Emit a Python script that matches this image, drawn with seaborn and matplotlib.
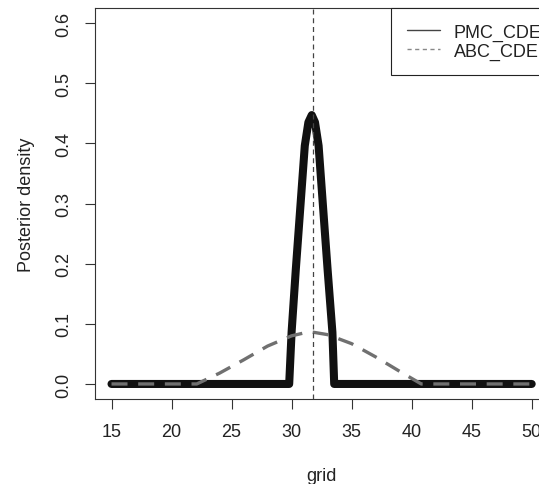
import numpy as np
import seaborn as sns
import matplotlib.pyplot as plt
from matplotlib.lines import Line2D

# --- data ---
pmc_x = [15, 29.8, 30.0, 30.35, 30.7, 31.1, 31.4, 31.68, 31.95, 32.25, 32.65, 33.0, 33.4, 33.55, 50]
pmc_y = [0, 0, 0.086, 0.19, 0.286, 0.396, 0.435, 0.447, 0.435, 0.396, 0.286, 0.19, 0.086, 0, 0]

abc_x = [15, 22.1, 24.0, 26.0, 28.0, 30.0, 31.5, 33.0, 35.0, 37.0, 39.0, 40.8, 50]
abc_y = [0, 0, 0.018, 0.040, 0.063, 0.080, 0.087, 0.082, 0.067, 0.045, 0.021, 0, 0]

true_value = 31.8
series_labels = ["PMC_CDE", "ABC_CDE"]
x_ticks = [15, 20, 25, 30, 35, 40, 45, 50]
y_ticks = [0.0, 0.1, 0.2, 0.3, 0.4, 0.5, 0.6]

# --- style ---
sns.set_style("white")
plt.rcParams['font.family'] = ['Liberation Sans', 'DejaVu Sans']
txt = '#222222'

fig = plt.figure(figsize=(5.39, 4.85), dpi=100)
W, H = 539, 485
ax = fig.add_axes([94.7 / W, (H - 400) / H, (548.5 - 94.7) / W, (400 - 9) / H])

sns.lineplot(x=pmc_x, y=pmc_y, ax=ax, color='#111111', linewidth=5.8,
             sort=False, estimator=None, solid_joinstyle='round', solid_capstyle='round')
sns.lineplot(x=abc_x, y=abc_y, ax=ax, color='#707070', linewidth=2.4,
             sort=False, estimator=None, dashes=False)
ax.lines[-1].set_dashes((4.8, 3.2))
ax.axvline(true_value, color='#444444', linewidth=0.9, linestyle=(0, (4, 3)), zorder=5)

ax.set_xlim(13.6, 51.4)
ax.set_ylim(-0.025, 0.625)
ax.set_xticks(x_ticks)
ax.set_xticklabels([str(v) for v in x_ticks], fontsize=13, color=txt)
ax.set_yticks(y_ticks)
ax.set_yticklabels([f"{v:.1f}" for v in y_ticks], fontsize=13, color=txt,
                   rotation=90, va='center')
ax.tick_params(axis='both', direction='out', length=7.5, width=0.8, color='#333333',
               bottom=True, left=True)
ax.tick_params(axis='x', pad=10)
ax.tick_params(axis='y', pad=9)
for s in ax.spines.values():
    s.set_color('#333333')
    s.set_linewidth(0.8)

ax.set_xlabel('grid', fontsize=13, color=txt, labelpad=19)
ax.set_ylabel('Posterior density', fontsize=13, color=txt, labelpad=14)

handles = [Line2D([], [], color='#444444', linewidth=1.0),
           Line2D([], [], color='#888888', linewidth=1.0, linestyle=(0, (3, 2.5)))]
leg = ax.legend(handles, series_labels, loc='upper right', borderaxespad=0,
                bbox_to_anchor=(1.0 + 8.5 / 453.8, 1.0),
                fancybox=False, edgecolor='#222222', framealpha=1, fontsize=13,
                handlelength=1.85, handletextpad=0.75, labelspacing=0.1, borderpad=0.85)
leg.get_frame().set_linewidth(0.8)
for t in leg.get_texts():
    t.set_color(txt)

fig.savefig('out.png', dpi=100)
